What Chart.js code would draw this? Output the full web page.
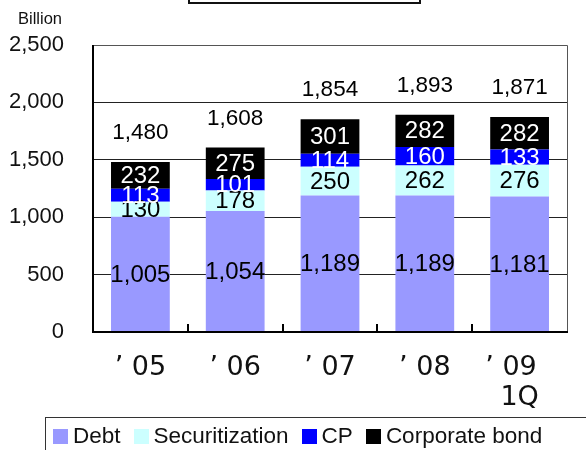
<!DOCTYPE html>
<html>
<head>
<meta charset="utf-8">
<script src="https://cdn.jsdelivr.net/npm/chart.js@4"></script>
<style>
  html, body { margin: 0; padding: 0; background: #fff; }
  body { width: 586px; height: 450px; position: relative; overflow: hidden; font-family: "Liberation Sans", Arial, sans-serif; }
  #wrap { position: absolute; left: 0; top: 0; width: 586px; height: 450px; }
  .title-box { position: absolute; left: 188px; top: -30px; width: 229px; height: 30px; border: 2px solid #111; }
  .unit { position: absolute; left: 18px; top: 9px; font-size: 16.5px; color: #111; }
  .legend {
    position: absolute; left: 45px; top: 417px; width: 600px; height: 60px;
    border: 1.5px solid #333; display: flex; align-items: flex-start;
    padding: 5px 0 0 7px; box-sizing: border-box; font-size: 22.5px; color: #111;
  }
  .legend-item { display: flex; align-items: center; margin-right: 13px; white-space: nowrap; }
  .legend-dot { width: 15px; height: 15px; margin-right: 5px; }
</style>
</head>
<body>
<div id="wrap"><canvas id="finChart" width="586" height="450"></canvas></div>
<div class="title-box"></div>
<div class="unit">Billion</div>
<div class="legend" id="finLegend"></div>
<script>
// ────────────────────────────────────────────────
// Data
// ────────────────────────────────────────────────
const categories = ['’ 05', '’ 06', '’ 07', '’ 08', ['’ 09  ', '1Q']];
const debt = [1005, 1054, 1189, 1189, 1181];
const securitization = [130, 178, 250, 262, 276];
const cp = [113, 101, 114, 160, 133];
const corporateBond = [232, 275, 301, 282, 282];
const totals = [1480, 1608, 1854, 1893, 1871];
const yTicks = [0, 500, 1000, 1500, 2000, 2500];

const SERIES = [
  { label: 'Debt', data: debt, color: '#9999ff', text: '#000' },
  { label: 'Securitization', data: securitization, color: '#ccffff', text: '#000' },
  { label: 'CP', data: cp, color: '#0000ff', text: '#fff' },
  { label: 'Corporate bond', data: corporateBond, color: '#000000', text: '#fff' },
];

// ────────────────────────────────────────────────
// Plugins: value labels + frame
// ────────────────────────────────────────────────
const valueLabels = {
  id: 'valueLabels',
  afterDatasetsDraw(chart) {
    const ctx = chart.ctx;
    const yScale = chart.scales.y;
    ctx.save();
    ctx.textAlign = 'center';
    ctx.textBaseline = 'middle';
    ctx.font = '24px "Liberation Sans", Arial, sans-serif';
    chart.data.datasets.forEach((ds, i) => {
      const meta = chart.getDatasetMeta(i);
      ctx.fillStyle = SERIES[i].text;
      meta.data.forEach((bar, j) => {
        const mid = (bar.y + bar.base) / 2;
        ctx.fillText(ds.data[j].toLocaleString('en-US'), bar.x, mid + 1);
      });
    });
    // totals above the stacks
    ctx.fillStyle = '#000';
    ctx.font = '22.5px "Liberation Sans", Arial, sans-serif';
    const first = chart.getDatasetMeta(0);
    totals.forEach((t, j) => {
      const x = first.data[j].x;
      const y = yScale.getPixelForValue(t) - 29;
      ctx.fillText(t.toLocaleString('en-US'), x, y);
    });
    ctx.restore();
  }
};

const frame = {
  id: 'frame',
  afterDraw(chart) {
    const { ctx, chartArea: a } = chart;
    ctx.save();
    // top + right border
    ctx.strokeStyle = '#555';
    ctx.lineWidth = 1;
    ctx.beginPath();
    ctx.moveTo(a.left, a.top + 0.5);
    ctx.lineTo(a.right + 0.5, a.top + 0.5);
    ctx.lineTo(a.right + 0.5, a.bottom);
    ctx.stroke();
    // category separators on the x axis
    ctx.strokeStyle = '#000';
    ctx.lineWidth = 2;
    const step = (a.right - a.left) / categories.length;
    for (let i = 1; i < categories.length; i++) {
      const x = Math.round(a.left + step * i);
      ctx.beginPath();
      ctx.moveTo(x, a.bottom);
      ctx.lineTo(x, a.bottom - 8);
      ctx.stroke();
    }
    // left + bottom axes
    ctx.beginPath();
    ctx.moveTo(a.left, a.top);
    ctx.lineTo(a.left, a.bottom);
    ctx.lineTo(a.right + 1, a.bottom);
    ctx.stroke();
    ctx.restore();
  }
};

// ────────────────────────────────────────────────
// Chart
// ────────────────────────────────────────────────
const ctx = document.getElementById('finChart').getContext('2d');
new Chart(ctx, {
  type: 'bar',
  data: {
    labels: categories,
    datasets: SERIES.map(s => ({
      label: s.label,
      data: s.data,
      backgroundColor: s.color,
      borderWidth: 0,
      categoryPercentage: 1,
      barPercentage: 0.62,
    })),
  },
  options: {
    responsive: false,
    animation: false,
    layout: { padding: { top: 45, right: 19, left: 0, bottom: 0 } },
    plugins: { legend: { display: false }, tooltip: { enabled: false } },
    scales: {
      x: {
        stacked: true,
        grid: { display: false, drawTicks: false },
        border: { display: false },
        ticks: {
          color: '#111',
          font: { family: 'DejaVu Sans', size: 27, lineHeight: 1.12 },
          padding: 21,
          maxRotation: 0,
        },
        afterFit: scale => { scale.height = 118; },
      },
      y: {
        stacked: true,
        min: 0,
        max: 2500,
        afterBuildTicks: scale => { scale.ticks = yTicks.map(v => ({ value: v })); },
        grid: { color: '#222', lineWidth: 1, drawTicks: false },
        border: { display: false },
        ticks: {
          color: '#111',
          font: { family: 'Liberation Sans', size: 22 },
          padding: 29,
          callback: v => v.toLocaleString('en-US'),
        },
        afterFit: scale => { scale.width = 93; },
      },
    },
  },
  plugins: [valueLabels, frame],
});

// Legend
const legendEl = document.getElementById('finLegend');
SERIES.forEach(s => {
  const item = document.createElement('div');
  item.className = 'legend-item';
  item.innerHTML = `<div class="legend-dot" style="background:${s.color}"></div>${s.label}`;
  legendEl.appendChild(item);
});
</script>
</body>
</html>
